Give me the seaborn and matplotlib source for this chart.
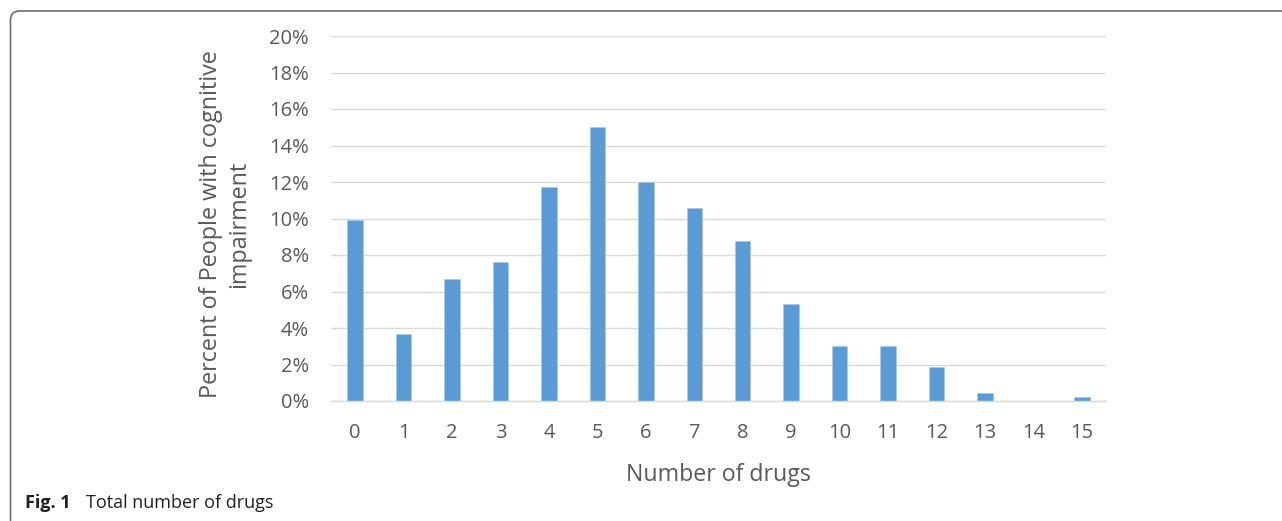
import pandas as pd
import seaborn as sns
import matplotlib.pyplot as plt
from matplotlib.patches import FancyBboxPatch
from matplotlib.ticker import FuncFormatter

sns.set_theme(style="white")
plt.rcParams['font.family'] = ['Open Sans', 'DejaVu Sans']

# data
drugs = list(range(16))
percent = [9.93, 3.68, 6.68, 7.6, 11.75, 15.0, 11.98, 10.6, 8.75, 5.3,
           3.0, 3.0, 1.84, 0.45, 0.0, 0.24]
yticks = list(range(0, 21, 2))

df = pd.DataFrame({"drugs": drugs, "percent": percent})

fig = plt.figure(figsize=(12.82, 5.21), dpi=100)
ax = fig.add_axes([331 / 1282, 1 - 401 / 521, 775 / 1282, 365 / 521])

sns.barplot(data=df, x="drugs", y="percent", order=drugs, color="#5b9bd5",
            width=0.32, saturation=1, edgecolor="#a8c8ec", linewidth=0.5, ax=ax)

ax.set_xlim(-0.5, 15.5)
ax.set_ylim(0, 20)
ax.set_yticks(yticks)
ax.yaxis.set_major_formatter(FuncFormatter(lambda v, p: f"{int(v)}%"))
ax.grid(axis="y", color="#d9d9d9", linewidth=1.0)
ax.set_axisbelow(True)
for s in ["top", "right", "left"]:
    ax.spines[s].set_visible(False)
ax.spines["bottom"].set_color("#d9d9d9")
ax.spines["bottom"].set_linewidth(1.0)
ax.tick_params(axis="both", length=0, labelsize=14.5, labelcolor="#595959")
ax.tick_params(axis="y", pad=16)
ax.tick_params(axis="x", pad=16)
ax.set_xlabel("Number of drugs", fontsize=16.7, color="#595959", labelpad=14)
ax.set_ylabel("")

fig.text(225 / 1282, 1 - 224 / 521, "Percent of People with cognitive\nimpairment",
         rotation=90, ha="center", va="center", multialignment="center",
         fontsize=16.8, color="#595959", linespacing=1.25)

# caption
fig.text(25 / 1282, 1 - 508 / 521, "Fig. 1", fontsize=13, fontweight="bold",
         color="#231f20", va="baseline")
fig.text(86 / 1282, 1 - 508 / 521, "Total number of drugs", fontsize=13,
         color="#231f20", va="baseline")

# frame around the figure (top and left visible)
frame = FancyBboxPatch((10.5, -30), 1400, 521 - 11 + 30,
                       boxstyle="round,pad=0,rounding_size=9",
                       transform=None, facecolor="none", edgecolor="#6e6e6e",
                       linewidth=1.2)
fig.add_artist(frame)

fig.savefig("out.png", dpi=100)
